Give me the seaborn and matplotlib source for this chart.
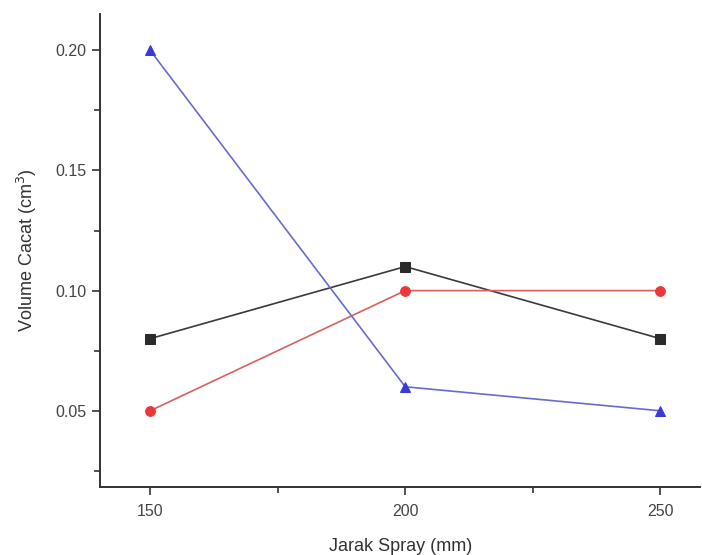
import matplotlib
matplotlib.use("Agg")
import matplotlib.pyplot as plt
import seaborn as sns
import pandas as pd
from matplotlib.ticker import MultipleLocator

jarak = [150, 200, 250]
seri_hitam = [0.08, 0.11, 0.08]
seri_merah = [0.05, 0.10, 0.10]
seri_biru = [0.20, 0.06, 0.05]
nama_seri = ["hitam", "merah", "biru"]
warna = {"hitam": "#2b2b2b", "merah": "#e8383c", "biru": "#3a3ad8"}
garis = {"hitam": "#3a3a3a", "merah": "#d86060", "biru": "#6a6ad0"}
penanda = {"hitam": "s", "merah": "o", "biru": "^"}

df = pd.DataFrame({
    "jarak": jarak * 3,
    "volume": seri_hitam + seri_merah + seri_biru,
    "seri": sum([[n] * len(jarak) for n in nama_seri], []),
})

sns.set_style("ticks")
plt.rcParams["font.family"] = ["Liberation Sans", "DejaVu Sans"]

fig = plt.figure(figsize=(7.02, 5.55), dpi=100)
ax = fig.add_axes([0.1425, 0.1225, 0.855, 0.852])

for n in nama_seri:
    sub = df[df["seri"] == n]
    sns.lineplot(data=sub, x="jarak", y="volume", ax=ax, color=garis[n],
                 linewidth=1.2, marker=penanda[n], markersize=7,
                 markerfacecolor=warna[n], markeredgecolor=warna[n],
                 legend=False)

ax.set_xlim(140.2, 257.8)
ax.set_ylim(0.0183, 0.215)
ax.set_xticks(jarak)
ax.set_yticks([0.05, 0.10, 0.15, 0.20])
ax.set_yticklabels(["0.05", "0.10", "0.15", "0.20"])
ax.xaxis.set_minor_locator(MultipleLocator(25))
ax.yaxis.set_minor_locator(MultipleLocator(0.025))
ax.tick_params(which="major", direction="out", length=6, width=1.2,
               labelsize=11.5, colors="#333333", labelcolor="#444444")
ax.tick_params(axis="x", which="major", pad=6)
ax.tick_params(which="minor", direction="out", length=4, width=1.2, colors="#333333")
sns.despine(ax=ax)
for s in ["left", "bottom"]:
    ax.spines[s].set_linewidth(1.4)
    ax.spines[s].set_color("#333333")

ax.set_xlabel("Jarak Spray (mm)", fontsize=13, color="#333333", labelpad=14)
ax.set_ylabel("Volume Cacat (cm$^3$)", fontsize=13, color="#333333", labelpad=12)

fig.savefig("out.png", dpi=100)
